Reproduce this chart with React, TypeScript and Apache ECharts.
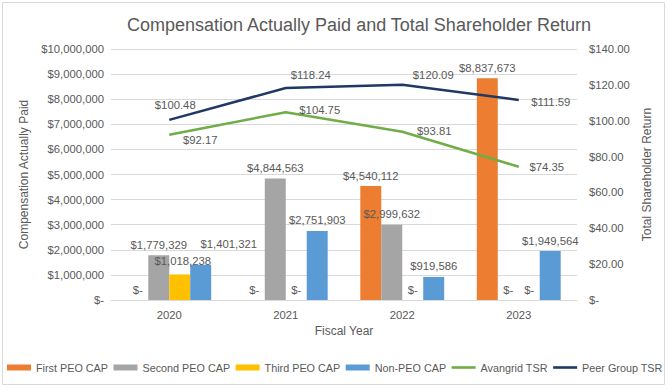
import React, { useEffect, useRef } from "react";
import * as echarts from "echarts";

const years = ["2020", "2021", "2022", "2023"];
const firstPeoCap = [0, 0, 4540112, 8837673];
const secondPeoCap = [1779329, 4844563, 2999632, 0];
const thirdPeoCap = [1018238, 0, 0, 0];
const nonPeoCap = [1401321, 2751903, 919586, 1949564];
const avangridTsr = [92.17, 104.75, 93.81, 74.35];
const peerGroupTsr = [100.48, 118.24, 120.09, 111.59];

const peerOffsets = [[6, -15], [25, -13], [31, -10], [32, 2]];
const avangridOffsets = [[31, 5], [34, -2], [32, -1], [28, 0]];

const FONT = "Liberation Sans";
const TXT = "#595959";
const LINE_ICON = "path://M0,0H24V2.6H0Z";

const money = (v: number) => (v === 0 ? "$-" : "$" + v.toLocaleString("en-US"));
const tsr = (v: number) => (v === 0 ? "$-" : "$" + v.toFixed(2));

export default function App() {
  const ref = useRef<HTMLDivElement>(null);
  useEffect(() => {
    if (!ref.current) return;
    const chart = echarts.init(ref.current, null, { renderer: "svg" });
    const barLabel = {
      show: true,
      position: "top",
      distance: 5,
      color: TXT,
      fontFamily: FONT,
      fontSize: 11.3,
      formatter: (p: any) => money(p.value),
    };
    const mkBar = (name: string, data: number[], color: string, offsets?: Record<number, number[]>) => ({
      name,
      type: "bar",
      yAxisIndex: 0,
      barGap: "0%",
      barCategoryGap: "28%",
      itemStyle: { color },
      label: barLabel,
      data: data.map((v, i) =>
        offsets && offsets[i] ? { value: v, label: { offset: offsets[i] } } : v
      ),
    });
    const mkLine = (name: string, data: number[], color: string, offs: number[][]) => ({
      name,
      type: "line",
      yAxisIndex: 1,
      symbol: "circle",
      symbolSize: 0.1,
      lineStyle: { color, width: 2.5 },
      itemStyle: { color },
      label: {
        show: true,
        position: "inside",
        color: TXT,
        fontFamily: FONT,
        fontSize: 11.3,
        formatter: (p: any) => tsr(p.value),
      },
      data: data.map((v, i) => ({ value: v, label: { offset: offs[i] } })),
    });
    chart.setOption({
      animation: false,
      backgroundColor: "#ffffff",
      textStyle: { fontFamily: FONT, color: TXT },
      title: {
        text: "Compensation Actually Paid and Total Shareholder Return",
        left: 122,
        top: 11,
        textStyle: { fontFamily: FONT, fontSize: 18, fontWeight: "normal", color: TXT },
      },
      graphic: [
        {
          type: "rect",
          shape: { x: 2.5, y: 2.5, width: 662, height: 382 },
          style: { fill: "none", stroke: "#d9d9d9", lineWidth: 1 },
          silent: true,
        },
      ],
      legend: {
        top: 362,
        left: 7,
        width: 661,
        padding: 0,
        itemGap: 5.5,
        itemWidth: 24,
        itemHeight: 6,
        textStyle: { fontFamily: FONT, fontSize: 10.8, color: TXT },
        data: [
          { name: "First PEO CAP", icon: "rect" },
          { name: "Second PEO CAP", icon: "rect" },
          { name: "Third PEO CAP", icon: "rect" },
          { name: "Non-PEO CAP", icon: "rect" },
          { name: "Avangrid TSR", icon: LINE_ICON },
          { name: "Peer Group TSR", icon: LINE_ICON },
        ],
      },
      grid: { left: 111, right: 91, top: 49, bottom: 89 },
      xAxis: {
        type: "category",
        data: years,
        name: "Fiscal Year",
        nameLocation: "middle",
        nameGap: 25,
        nameTextStyle: { fontFamily: FONT, fontSize: 12, color: TXT },
        axisLine: { lineStyle: { color: "#d9d9d9" } },
        axisTick: { show: false },
        axisLabel: { fontFamily: FONT, fontSize: 11.3, color: TXT, margin: 9 },
      },
      yAxis: [
        {
          type: "value",
          min: 0,
          max: 10000000,
          interval: 1000000,
          name: "Compensation Actually Paid",
          nameLocation: "middle",
          nameGap: 71,
          nameTextStyle: { fontFamily: FONT, fontSize: 12, color: TXT },
          axisLine: { show: false },
          axisTick: { show: false },
          splitLine: { lineStyle: { color: "#d9d9d9" } },
          axisLabel: { fontFamily: FONT, fontSize: 11.3, color: TXT, margin: 7, formatter: money },
        },
        {
          type: "value",
          min: 0,
          max: 140,
          interval: 20,
          name: "Total Shareholder Return",
          nameLocation: "middle",
          nameGap: 51,
          nameRotate: 90,
          nameTextStyle: { fontFamily: FONT, fontSize: 12, color: TXT },
          axisLine: { show: false },
          axisTick: { show: false },
          splitLine: { show: false },
          axisLabel: { fontFamily: FONT, fontSize: 11.3, color: TXT, margin: 12, formatter: tsr },
        },
      ],
      series: [
        mkBar("First PEO CAP", firstPeoCap, "#ED7D31"),
        mkBar("Second PEO CAP", secondPeoCap, "#A5A5A5"),
        mkBar("Third PEO CAP", thirdPeoCap, "#FFC000", { 0: [3, -3] }),
        mkBar("Non-PEO CAP", nonPeoCap, "#5B9BD5", { 0: [28, -10] }),
        mkLine("Avangrid TSR", avangridTsr, "#70AD47", avangridOffsets),
        mkLine("Peer Group TSR", peerGroupTsr, "#1F3864", peerOffsets),
      ],
    });
    return () => chart.dispose();
  }, []);
  return (
    <div
      ref={ref}
      style={{ position: "fixed", left: 0, top: 0, width: 668, height: 389, background: "#fff" }}
    />
  );
}
